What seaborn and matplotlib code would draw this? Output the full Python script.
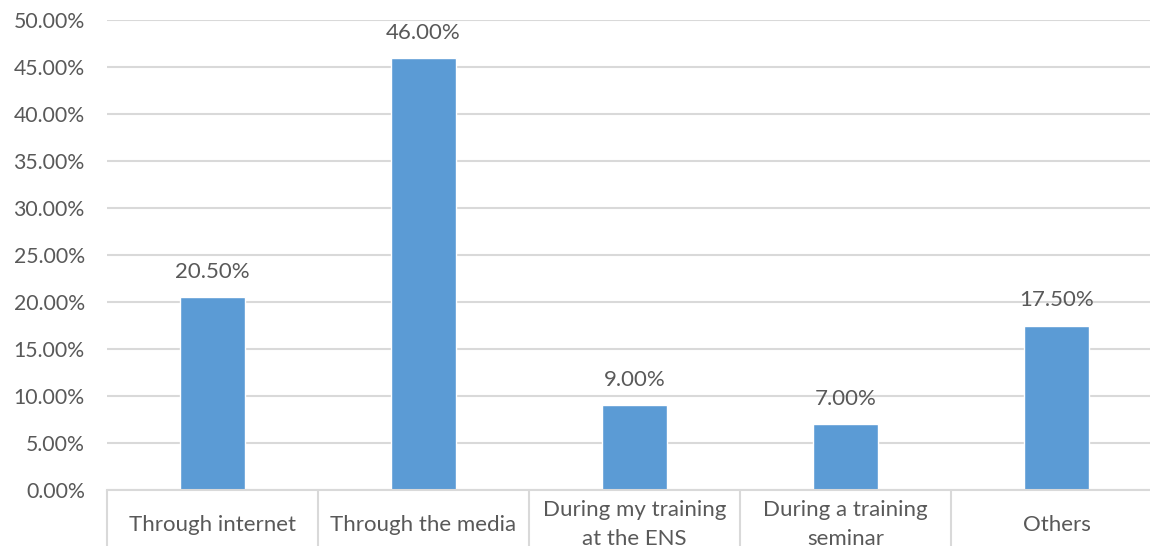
import matplotlib
matplotlib.use("Agg")
import matplotlib.pyplot as plt
import seaborn as sns
import pandas as pd
from matplotlib.ticker import FuncFormatter, FixedLocator

categories = ["Through internet", "Through the media", "During my training\nat the ENS",
              "During a training\nseminar", "Others"]
values = [20.5, 46.0, 9.0, 7.0, 17.5]
yticks = [0, 5, 10, 15, 20, 25, 30, 35, 40, 45, 50]

df = pd.DataFrame({"cat": categories, "val": values})

sns.set_style("white")
plt.rcParams['font.family'] = ['Lato', 'DejaVu Sans']

fig = plt.figure(figsize=(11.5, 5.46), dpi=100)
ax = fig.add_axes([107/1150, 56/546, 1 - 107/1150, 470/546])

grid_c = "#D9D9D9"
text_c = "#595959"

sns.barplot(data=df, x="cat", y="val", color="#5B9BD5", width=0.31, saturation=1, ax=ax, zorder=3)

ax.set_ylim(0, 50)
ax.set_xlim(-0.5, 4.443)
ax.set_yticks(yticks)
ax.yaxis.set_major_formatter(FuncFormatter(lambda v, p: f"{v:.2f}%"))
ax.yaxis.grid(True, color=grid_c, linewidth=1.5, zorder=0)
ax.set_axisbelow(True)
for s in ["top", "right", "left"]:
    ax.spines[s].set_visible(False)
ax.spines["bottom"].set_color(grid_c)
ax.spines["bottom"].set_linewidth(1.5)
ax.spines["bottom"].set_zorder(4)

ax.tick_params(axis='y', length=0, pad=16, labelsize=15.3, labelcolor=text_c)
ax.tick_params(axis='x', which='major', length=0, pad=25, labelsize=16, labelcolor=text_c)
for lab in ax.get_xticklabels():
    lab.set_verticalalignment('center')
    lab.set_linespacing(1.55)

ax.xaxis.set_minor_locator(FixedLocator([i - 0.5 for i in range(len(categories))]))
ax.tick_params(axis='x', which='minor', bottom=True, length=42, width=1.5, color=grid_c, direction='out')

ax.set_xlabel("")
ax.set_ylabel("")

for i, v in enumerate(values):
    ax.annotate(f"{v:.2f}%", (i, v), xytext=(0, 18), textcoords="offset points",
                ha="center", va="center", fontsize=16, color=text_c)

fig.savefig("out.png", dpi=100)
